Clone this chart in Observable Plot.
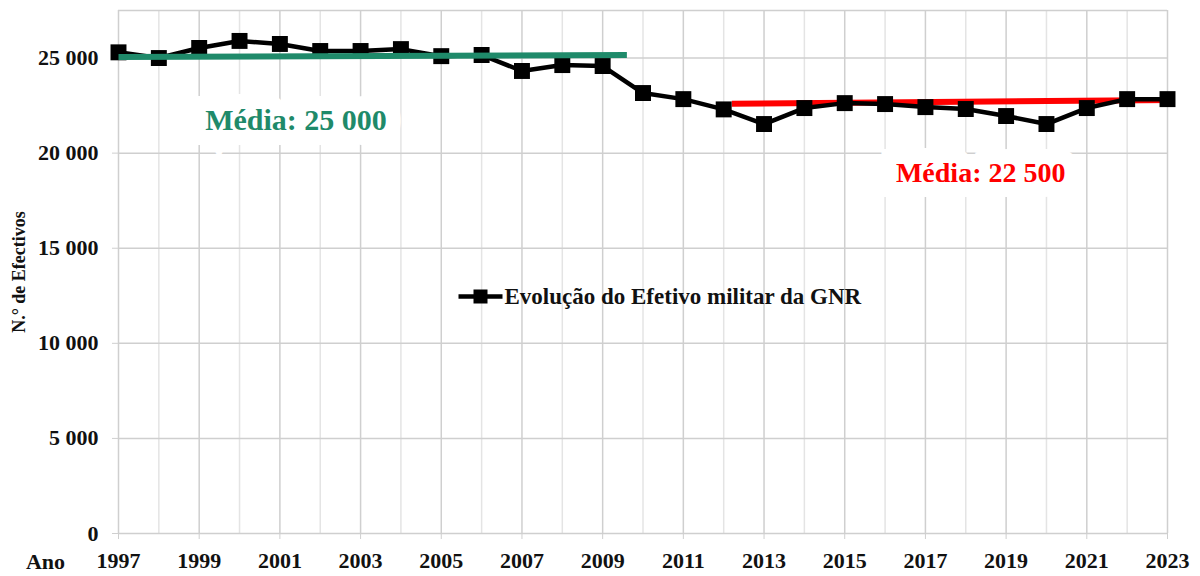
<!DOCTYPE html>
<html>
<head>
<meta charset="utf-8">
<script src="https://cdn.jsdelivr.net/npm/d3@7"></script>
<script src="https://cdn.jsdelivr.net/npm/@observablehq/plot@0.6"></script>
<style>
  html, body { margin: 0; padding: 0; background: #fff; overflow: hidden; }
</style>
</head>
<body>
<div id="chart"></div>
<script>
// ---- Data ----
const years = [1997, 1998, 1999, 2000, 2001, 2002, 2003, 2004, 2005, 2006,
               2007, 2008, 2009, 2010, 2011, 2012, 2013, 2014, 2015, 2016,
               2017, 2018, 2019, 2020, 2021, 2022, 2023];
const efetivos = [25300, 25000, 25530, 25900, 25740, 25370, 25370, 25470, 25100, 25160,
                  24320, 24630, 24580, 23160, 22840, 22300, 21530, 22370, 22630, 22580,
                  22420, 22320, 21950, 21530, 22370, 22840, 22840];
const xTickYears = [1997, 1999, 2001, 2003, 2005, 2007, 2009, 2011, 2013, 2015, 2017, 2019, 2021, 2023];
const minorYears = [1998, 2000, 2002, 2004, 2006, 2008, 2010, 2012, 2014, 2016, 2018, 2020, 2022];
const yTicks = [0, 5000, 10000, 15000, 20000, 25000];
const yMax = 27500;

// average lines (as drawn)
const meanLabels = ["Média: 25 000", "Média: 22 500"];
const meanStartYear = [1997, 2012.2];
const meanEndYear = [2009.6, 2023.15];
const meanStartValue = [25060, 22600];
const meanEndValue = [25160, 22800];
const meanLabelYear = [2001.4, 2018.37];
const meanLabelValue = [21710, 18974];

const seriesName = "Evolução do Efetivo militar da GNR";
const yTitle = "N.° de Efectivos";
const xTitle = "Ano";

// ---- Build ----
const rows = years.map((y, i) => ({year: y, value: efetivos[i]}));
const means = meanLabels.map((label, i) => ({
  label, x1: meanStartYear[i], x2: meanEndYear[i], y1: meanStartValue[i], y2: meanEndValue[i],
  lx: meanLabelYear[i], ly: meanLabelValue[i]
}));
const fmt = d3.formatLocale({decimal: ",", thousands: " ", grouping: [3], currency: ["", ""]}).format(",");

const GREEN = "#1f8a6a";
const RED = "#ff0000";
const GRID = "#cfcfcf";
const GRID_MINOR = "#e4e4e4";

const legendSymbol = {
  draw(context) {
    context.rect(-22, -2.2, 44, 4.4);
    context.rect(-7, -7, 14, 14);
  }
};

const chart = Plot.plot({
  width: 1200,
  height: 576,
  marginLeft: 118,
  marginRight: 33,
  marginTop: 10,
  marginBottom: 43,
  style: {
    fontFamily: '"Liberation Serif", "Times New Roman", serif',
    fontWeight: "bold",
    background: "#fff",
    color: "#111"
  },
  x: {domain: [1997, 2023]},
  y: {domain: [0, yMax]},
  marks: [
    // grid
    Plot.ruleX(minorYears, {stroke: GRID_MINOR, strokeWidth: 1.5}),
    Plot.ruleX(xTickYears, {stroke: GRID, strokeWidth: 1.5}),
    Plot.ruleY(yTicks, {stroke: GRID, strokeWidth: 1.5}),
    Plot.ruleY([yMax], {stroke: GRID, strokeWidth: 1.5}),
    // axes
    Plot.axisX({ticks: xTickYears, tickFormat: d => String(d), tickSize: 6, tickPadding: 13,
      fontSize: 22, stroke: GRID, fill: "#111", label: null}),
    Plot.axisY({ticks: yTicks, tickFormat: fmt, tickSize: 6, tickPadding: 14,
      fontSize: 22, stroke: GRID, fill: "#111", label: null}),
    Plot.text([xTitle], {frameAnchor: "bottom-left", dx: -73, dy: 28, fontSize: 22,
      textAnchor: "middle", lineAnchor: "middle", fill: "#111"}),
    Plot.text([yTitle], {frameAnchor: "left", dx: -99, rotate: -90, fontSize: 18,
      textAnchor: "middle", lineAnchor: "middle", fill: "#111"}),
    // mean labels with white boxes
    Plot.text(means, {x: "lx", y: "ly", text: "label", fontSize: d => d.label === meanLabels[0] ? 30 : 28,
      fill: d => d.label === meanLabels[0] ? GREEN : RED,
      stroke: "white", strokeWidth: 30, strokeLinejoin: "miter", paintOrder: "stroke",
      textAnchor: "middle", lineAnchor: "middle"}),
    // legend
    Plot.text([seriesName], {frameAnchor: "top-left", dx: 386, dy: 286, fontSize: 23,
      textAnchor: "start", lineAnchor: "middle", fill: "#111"}),
    Plot.dot([seriesName], {frameAnchor: "top-left", dx: 362, dy: 286, symbol: legendSymbol,
      fill: "#000", stroke: null}),
    // red mean line (behind data)
    Plot.link(means.slice(1), {x1: "x1", x2: "x2", y1: "y1", y2: "y2", stroke: RED, strokeWidth: 6}),
    // data
    Plot.line(rows, {x: "year", y: "value", stroke: "#000", strokeWidth: 4.5}),
    Plot.dot(rows, {x: "year", y: "value", symbol: "square", r: 9, fill: "#000", stroke: null}),
    // green mean line (on top)
    Plot.link(means.slice(0, 1), {x1: "x1", x2: "x2", y1: "y1", y2: "y2", stroke: GREEN, strokeWidth: 6})
  ]
});

document.getElementById("chart").appendChild(chart);
</script>
</body>
</html>
